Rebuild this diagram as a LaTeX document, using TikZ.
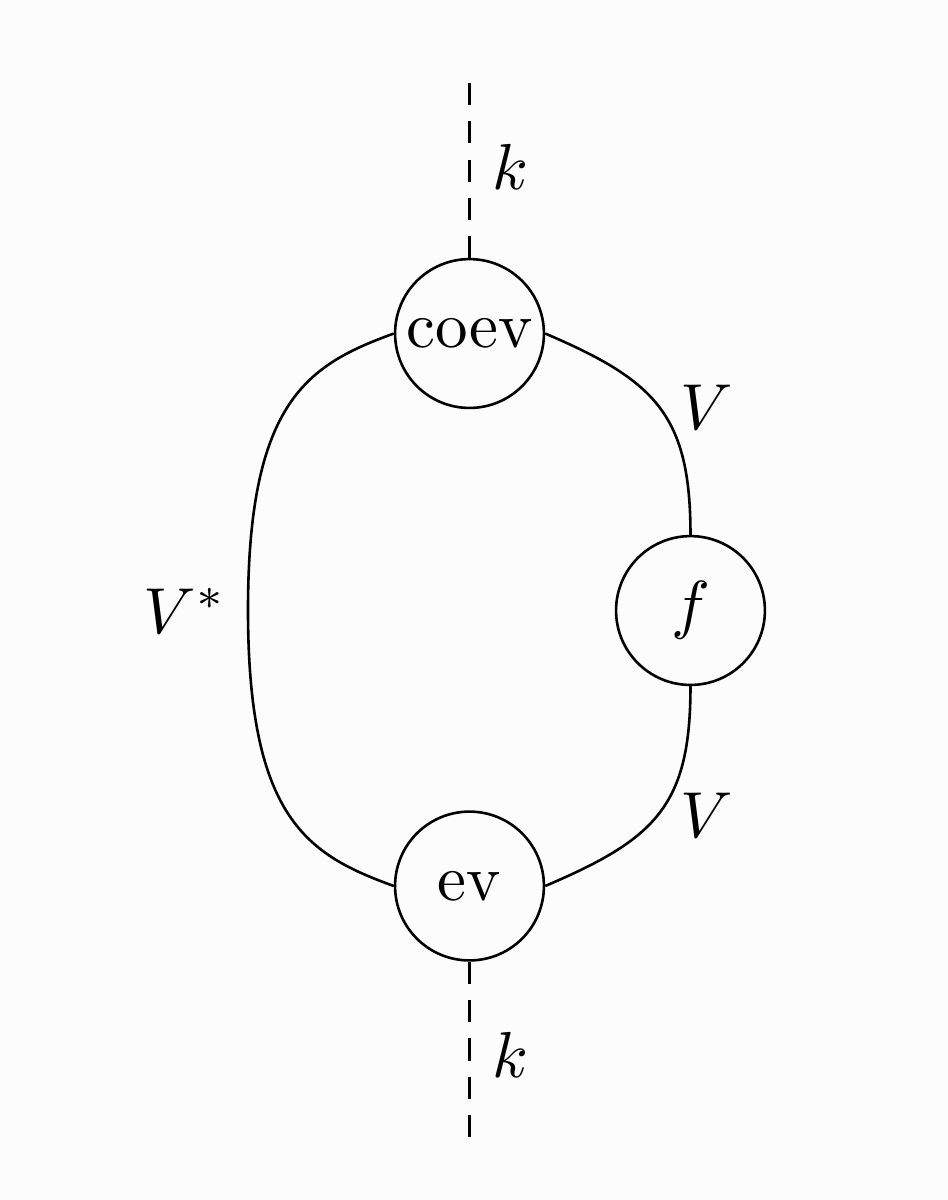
\documentclass[tikz,border=0pt]{standalone}
\begin{document}
\begin{tikzpicture}[x=0.15385pt,y=-0.15385pt,
  box/.style={draw,circle,line width=0.4pt,minimum size=22.9pt,inner sep=0pt},
  wire/.style={line width=0.4pt},
  unitwire/.style={line width=0.4pt,dash pattern=on 3.4pt off 2.5pt},
  lab/.style={inner sep=0pt}]
\fill[fill={rgb,255:red,252;green,252;blue,252}] (0,0) rectangle (948,1200);
\useasboundingbox (0,0) rectangle (948,1200);
\node[box] (coev) at (469.5,333.5) {coev};
\node[box] (f) at (690.5,610.5) {$f$};
\node[box] (ev) at (469.5,886) {ev};
\coordinate (top) at (469.5,83);
\coordinate (bot) at (469.5,1137);
\coordinate (lmid) at (248,610);
\draw[unitwire] (top) -- (coev.north);
\draw[unitwire] (ev.south) -- (bot);
\draw[wire] (coev.west) .. controls +(-85,31) and +(0,-210) .. (lmid)
  .. controls +(0,210) and +(-85,-31) .. (ev.west);
\draw[wire] (coev.east) .. controls +(110,47) and +(0,-120) .. (f.north);
\draw[wire] (f.south) .. controls +(0,120) and +(110,-47) .. (ev.east);
\node[lab] (k1) at (510,166.5) {$k$};
\node[lab] (k2) at (510,1054.5) {$k$};
\node[lab] (v1) at (707,407.5) {$V$};
\node[lab] (v2) at (707,815) {$V$};
\node[lab] (vs) at (185,611) {$V^*$};
\end{tikzpicture}
\end{document}
